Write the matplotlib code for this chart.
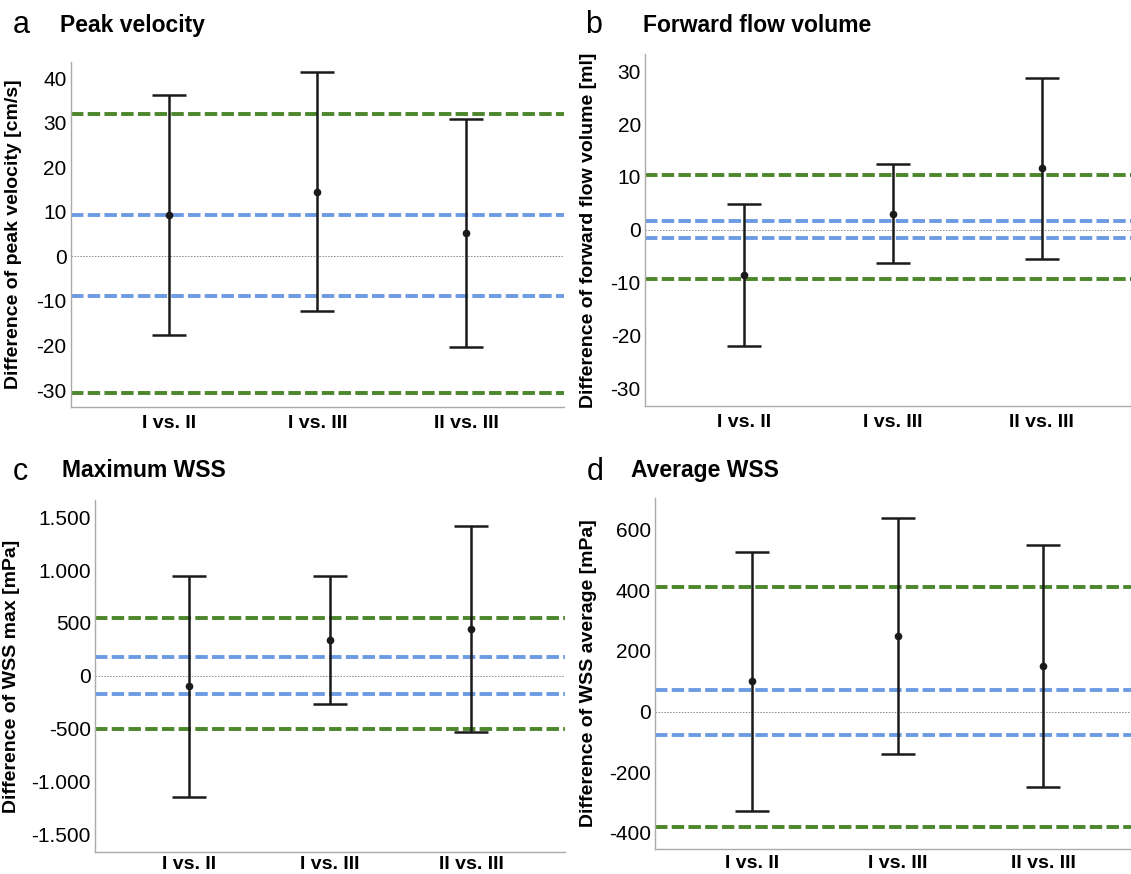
import matplotlib
matplotlib.use('Agg')
import matplotlib.pyplot as plt

plt.rcParams['font.family'] = ['Liberation Sans', 'DejaVu Sans']

# comparisons on the x axis
categories = ['I vs. II', 'I vs. III', 'II vs. III']

# a: peak velocity [cm/s]
pv_mean = [9.2, 14.5, 5.2]
pv_low = [-17.7, -12.3, -20.3]
pv_high = [36.1, 41.4, 30.9]
pv_loa = [31.9, -30.6]
pv_ref = [9.3, -8.8]
pv_ticks = [-30, -20, -10, 0, 10, 20, 30, 40]
pv_ticklabels = ['-30', '-20', '-10', '0', '10', '20', '30', '40']

# b: forward flow volume [ml]
ffv_mean = [-8.5, 3.0, 11.7]
ffv_low = [-21.9, -6.3, -5.5]
ffv_high = [4.9, 12.5, 28.8]
ffv_loa = [10.3, -9.3]
ffv_ref = [1.6, -1.6]
ffv_ticks = [-30, -20, -10, 0, 10, 20, 30]
ffv_ticklabels = ['-30', '-20', '-10', '0', '10', '20', '30']

# c: maximum WSS [mPa]
wmax_mean = [-101, 341, 439]
wmax_low = [-1149, -265, -536]
wmax_high = [947, 941, 1418]
wmax_loa = [549, -508]
wmax_ref = [174, -176]
wmax_ticks = [-1500, -1000, -500, 0, 500, 1000, 1500]
wmax_ticklabels = ['-1.500', '-1.000', '-500', '0', '500', '1.000', '1.500']

# d: average WSS [mPa]
wavg_mean = [100, 248, 150]
wavg_low = [-328, -140, -249]
wavg_high = [528, 638, 551]
wavg_loa = [411, -383]
wavg_ref = [72, -79]
wavg_ticks = [-400, -200, 0, 200, 400, 600]
wavg_ticklabels = ['-400', '-200', '0', '200', '400', '600']

green = '#4c872c'
blue = '#6d9be3'

fig = plt.figure(figsize=(11.31, 8.74), dpi=100)


def panel(rect, letter, title, ylabel, mean, low, high, loa, ref, ticks, ticklabels,
          ylim, xlim, letter_xy, title_xy, ylabel_x, xpad):
    ax = fig.add_axes(rect)
    x = list(range(len(categories)))
    for y in loa:
        ax.axhline(y, color=green, lw=2.8, dashes=(3.2, 1.1), zorder=1)
    for y in ref:
        ax.axhline(y, color=blue, lw=2.8, dashes=(3.2, 1.1), zorder=1)
    ax.axhline(0, color='#888888', lw=0.7, ls=(0, (1.5, 1.5)), zorder=1)
    yerr = [[m - l for m, l in zip(mean, low)], [h - m for m, h in zip(mean, high)]]
    ax.errorbar(x, mean, yerr=yerr, fmt='o', color='#1a1a1a', ms=4.5, elinewidth=1.8,
                capsize=12.5, capthick=1.8, zorder=3)
    ax.set_xlim(*xlim)
    ax.set_ylim(*ylim)
    ax.set_xticks(x)
    ax.set_xticklabels(categories, fontsize=14, fontweight='bold')
    ax.set_yticks(ticks)
    ax.set_yticklabels(ticklabels, fontsize=15)
    ax.tick_params(length=0, pad=3)
    ax.tick_params(axis='x', pad=xpad)
    for s in ['top', 'right']:
        ax.spines[s].set_visible(False)
    for s in ['left', 'bottom']:
        ax.spines[s].set_color('#aaaaaa')
        ax.spines[s].set_linewidth(1.0)
    ax.set_ylabel(ylabel, fontsize=14, fontweight='bold')
    ax.yaxis.set_label_coords(ylabel_x / 1131, rect[1] + rect[3] / 2,
                              transform=fig.transFigure)
    fig.text(letter_xy[0] / 1131, 1 - letter_xy[1] / 874, letter, fontsize=22,
             va='baseline', ha='left')
    fig.text(title_xy[0] / 1131, 1 - title_xy[1] / 874, title, fontsize=16.5,
             fontweight='bold', va='baseline', ha='left')
    return ax


panel([70.7 / 1131, 1 - 407 / 874, 493.3 / 1131, 345 / 874], 'a', 'Peak velocity',
      'Difference of peak velocity [cm/s]', pv_mean, pv_low, pv_high, pv_loa, pv_ref,
      pv_ticks, pv_ticklabels, (-33.8, 43.6), (-0.662, 2.66), (13, 33), (60, 32), 22, 6)

panel([645 / 1131, 1 - 406 / 874, 486 / 1131, 351.7 / 874], 'b', 'Forward flow volume',
      'Difference of forward flow volume [ml]', ffv_mean, ffv_low, ffv_high, ffv_loa, ffv_ref,
      ffv_ticks, ffv_ticklabels, (-33.3, 33.2), (-0.665, 2.6), (585, 33), (643, 32), 597, 6)

panel([95 / 1131, 1 - 852.3 / 874, 470 / 1131, 352.3 / 874], 'c', 'Maximum WSS',
      'Difference of WSS max [mPa]', wmax_mean, wmax_low, wmax_high, wmax_loa, wmax_ref,
      wmax_ticks, wmax_ticklabels, (-1673, 1664), (-0.667, 2.667), (13, 480), (62, 477), 20, 3)

panel([655 / 1131, 1 - 849 / 874, 476 / 1131, 351.3 / 874], 'd', 'Average WSS',
      'Difference of WSS average [mPa]', wavg_mean, wavg_low, wavg_high, wavg_loa, wavg_ref,
      wavg_ticks, wavg_ticklabels, (-454, 706), (-0.67, 2.603), (587, 480), (631, 477), 597, 4)

fig.savefig('out.png', dpi=100)
